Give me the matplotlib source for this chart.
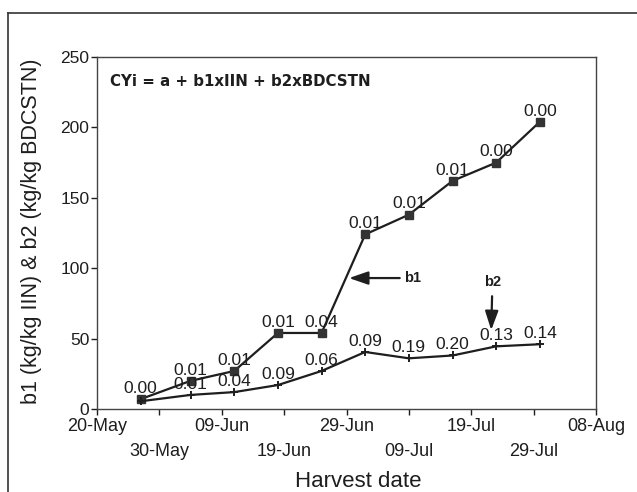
import matplotlib
matplotlib.use('Agg')
import matplotlib.pyplot as plt
import matplotlib.dates as mdates
from matplotlib.lines import Line2D
import numpy as np

plt.rcParams['font.family'] = ['Liberation Sans', 'DejaVu Sans']

# harvest dates and regression coefficients
harvest = ['2001-05-27', '2001-06-04', '2001-06-11', '2001-06-18', '2001-06-25',
           '2001-07-02', '2001-07-09', '2001-07-16', '2001-07-23', '2001-07-30']
b1 = [7, 20, 27, 54, 54, 124, 138, 162, 175, 204]
b2 = [5.5, 10, 12, 17, 27, 40.5, 36, 38, 44.5, 46]
b1_p = ['0.00', '0.01', '0.01', '0.01', '0.04', '0.01', '0.01', '0.01', '0.00', '0.00']
b2_p = ['', '0.01', '0.04', '0.09', '0.06', '0.09', '0.19', '0.20', '0.13', '0.14']

dates = np.array(harvest, dtype='datetime64[D]').astype('O')
ink = '#1e1e1e'

fig = plt.figure(figsize=(6.37, 4.92), dpi=100)
ax = fig.add_axes([97/637, 1 - 409/492, 499/637, 352/492])

ax.plot(dates, b1, color=ink, lw=1.6, marker='s', ms=5.8, mfc='#333333', mec='#333333')
ax.plot(dates, b2, color=ink, lw=1.6, marker='+', ms=6, mew=1.4)

for d, v, t in zip(dates, b1, b1_p):
    ax.annotate(t, (d, v), xytext=(0, 4.5), textcoords='offset points',
                ha='center', va='baseline', fontsize=12.5, color=ink)
for d, v, t in zip(dates, b2, b2_p):
    if t:
        ax.annotate(t, (d, v), xytext=(0, 4.5), textcoords='offset points',
                    ha='center', va='baseline', fontsize=12.5, color=ink)

# arrows pointing at each curve
arrow = dict(arrowstyle='-|>,head_length=1.1,head_width=0.38', color=ink, lw=1.6)
ax.annotate('b1', xy=(mdates.datestr2num('2001-06-29') + 0.4, 93),
            xytext=(mdates.datestr2num('2001-07-09') - 0.8, 93),
            ha='left', va='center', fontsize=10.5, fontweight='bold', color=ink,
            arrowprops=dict(arrow, shrinkA=1, shrinkB=0))
ax.annotate('b2', xy=(mdates.datestr2num('2001-07-22') + 0.2, 56),
            xytext=(mdates.datestr2num('2001-07-22') + 0.4, 90),
            ha='center', va='center', fontsize=10.5, fontweight='bold', color=ink,
            arrowprops=dict(arrow, shrinkA=3, shrinkB=0))

ax.text(0.026, 0.929, 'CYi = a + b1xIIN + b2xBDCSTN', transform=ax.transAxes,
        ha='left', va='center', fontsize=10.8, fontweight='bold', color=ink,
        family='DejaVu Sans')

ax.set_xlim(mdates.datestr2num('2001-05-20'), mdates.datestr2num('2001-08-08'))
ax.set_ylim(0, 250)
ax.set_yticks([0, 50, 100, 150, 200, 250])

major = [mdates.datestr2num(s) for s in ['2001-05-20', '2001-06-09', '2001-06-29', '2001-07-19', '2001-08-08']]
minor = [mdates.datestr2num(s) for s in ['2001-05-30', '2001-06-19', '2001-07-09', '2001-07-29']]
ax.set_xticks(major)
ax.set_xticks(minor, minor=True)
ax.xaxis.set_major_formatter(mdates.DateFormatter('%d-%b'))
ax.xaxis.set_minor_formatter(mdates.DateFormatter('%d-%b'))
ax.tick_params(axis='x', which='major', length=4, width=1, pad=2.5, labelsize=13, colors=ink)
ax.tick_params(axis='x', which='minor', length=4, width=1, pad=20.5, labelsize=13, colors=ink)
ax.tick_params(axis='y', length=4, width=1, pad=1.5, labelsize=12.5, colors=ink)
for s in ax.spines.values():
    s.set_color('#444444')
    s.set_linewidth(1)

fig.text(32/637, 1 - 231/492, 'b1 (kg/kg IIN) & b2 (kg/kg BDCSTN)', rotation=90,
         ha='center', va='center', fontsize=15.5, color=ink)
fig.text(358/637, 1 - 487/492, 'Harvest date', ha='center', va='baseline',
         fontsize=16, color=ink)

# outer frame (cropped at right and bottom)
fig.add_artist(Line2D([8/637, 1], [1 - 13/492] * 2, color='#333333', lw=1.2))
fig.add_artist(Line2D([8/637] * 2, [0, 1 - 13/492], color='#333333', lw=1.2))

fig.savefig('out.png', dpi=100)
